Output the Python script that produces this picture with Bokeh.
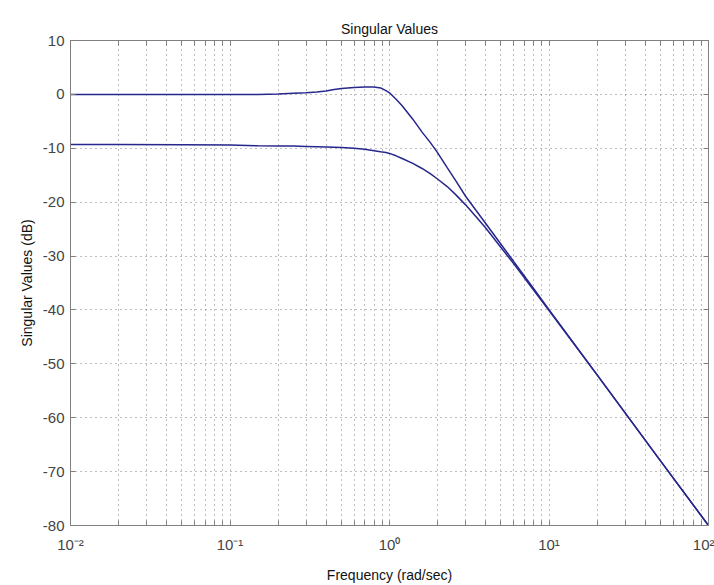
from bokeh.plotting import figure
from bokeh.models import FixedTicker, LogAxis, LinearAxis, Range1d
from bokeh.embed import file_html
from bokeh.resources import INLINE

# Frequencies (rad/sec) and singular values (dB)
freq = [0.01, 0.02, 0.05, 0.1, 0.15, 0.2, 0.25, 0.3, 0.35, 0.4, 0.45, 0.5, 0.6, 0.7,
        0.8, 0.88, 0.95, 1.0, 1.1, 1.2, 1.4, 1.6, 1.8, 2.0, 2.3, 2.6, 3.0, 3.5, 4.0,
        5.0, 6.0, 8.0, 10, 20, 50, 100]
sv_upper = [0.0, 0.0, 0.0, 0.0, 0.0, 0.05, 0.2, 0.3, 0.45, 0.65, 0.9, 1.1, 1.3, 1.35,
            1.35, 1.2, 0.7, 0.3, -0.9, -2.1, -4.6, -7.0, -8.9, -10.8, -13.6, -16.0,
            -18.9, -21.6, -23.9, -27.8, -31.0, -36.0, -39.95, -52.0, -68.0, -80.0]
sv_lower = [-9.3, -9.3, -9.35, -9.4, -9.55, -9.6, -9.6, -9.65, -9.7, -9.75, -9.8,
            -9.85, -10.0, -10.2, -10.45, -10.65, -10.8, -10.95, -11.4, -11.9, -12.8,
            -13.75, -14.7, -15.7, -17.1, -18.6, -20.5, -22.75, -24.75, -28.4, -31.4,
            -36.3, -40.1, -52.05, -68.0, -80.0]

x_major = [0.01, 0.1, 1, 10, 100]
x_labels = ["10\u207b\u00b2", "10\u207b\u00b9", "10\u2070", "10\u00b9", "10\u00b2"]
x_minor = [m * d for d in [0.01, 0.1, 1, 10] for m in range(2, 10)]
y_ticks = [10, 0, -10, -20, -30, -40, -50, -60, -70, -80]

FONT = "Liberation Sans"
line_color = "#26268c"

p = figure(width=714, height=585, x_axis_type="log",
           x_range=Range1d(0.01, 100), y_range=Range1d(-80, 10),
           output_backend="svg", toolbar_location=None,
           min_border_left=70, min_border_right=6, min_border_top=40,
           min_border_bottom=60, background_fill_color="white",
           border_fill_color="white", title="Singular Values")

p.title.align = "center"
p.title.text_font = FONT
p.title.text_font_size = "14px"
p.title.text_font_style = "normal"
p.title.text_color = "#111111"
p.title.standoff = 8

xt = FixedTicker(ticks=x_major, minor_ticks=x_minor)
yt = FixedTicker(ticks=y_ticks)

p.xaxis.ticker = xt
p.yaxis.ticker = yt
p.xgrid.ticker = xt
p.ygrid.ticker = yt
p.xaxis.major_label_overrides = {v: s for v, s in zip(x_major, x_labels)}
p.yaxis.major_label_overrides = {v: str(v) for v in y_ticks}

for ax in [p.xaxis[0], p.yaxis[0]]:
    ax.major_tick_in = 5
    ax.major_tick_out = 0
    ax.minor_tick_in = 5
    ax.minor_tick_out = 0
    ax.axis_line_color = "#808080"
    ax.major_tick_line_color = "#808080"
    ax.minor_tick_line_color = "#808080"
    ax.major_label_text_font = FONT
    ax.major_label_text_font_size = "15px"
    ax.major_label_text_color = "#444444"
    ax.axis_label_text_font = FONT
    ax.axis_label_text_font_size = "14px"
    ax.axis_label_text_font_style = "normal"
    ax.axis_label_text_color = "#111111"
p.yaxis.minor_tick_line_color = None
p.xaxis.axis_label = "Frequency (rad/sec)"
p.yaxis.axis_label = "Singular Values (dB)"
p.xaxis.major_label_standoff = 10
p.xaxis.axis_label_standoff = 11
p.yaxis.major_label_standoff = 6

top = LogAxis(ticker=xt, major_tick_in=5, major_tick_out=0, minor_tick_in=5,
              minor_tick_out=0, major_label_text_font_size="1px",
              major_label_text_color=None,
              axis_line_color="#808080", major_tick_line_color="#808080",
              minor_tick_line_color="#808080", major_label_standoff=0)
right = LinearAxis(ticker=yt, major_tick_in=5, major_tick_out=0, minor_tick_in=0,
                   minor_tick_out=0, major_label_text_font_size="1px",
                   major_label_text_color=None,
                   axis_line_color="#808080", major_tick_line_color="#808080",
                   minor_tick_line_color=None, major_label_standoff=0)
p.add_layout(top, "above")
p.add_layout(right, "right")

for g in [p.xgrid[0], p.ygrid[0]]:
    g.grid_line_color = "#505050"
    g.grid_line_dash = "1 4"
    g.grid_line_alpha = 0.75
p.xgrid.minor_grid_line_color = "#505050"
p.xgrid.minor_grid_line_dash = "1 4"
p.xgrid.minor_grid_line_alpha = 0.75

p.outline_line_color = "#808080"

p.line(freq, sv_upper, line_color=line_color, line_width=1.5)
p.line(freq, sv_lower, line_color=line_color, line_width=1.5)

open("out.html", "w").write(file_html(p, INLINE))
